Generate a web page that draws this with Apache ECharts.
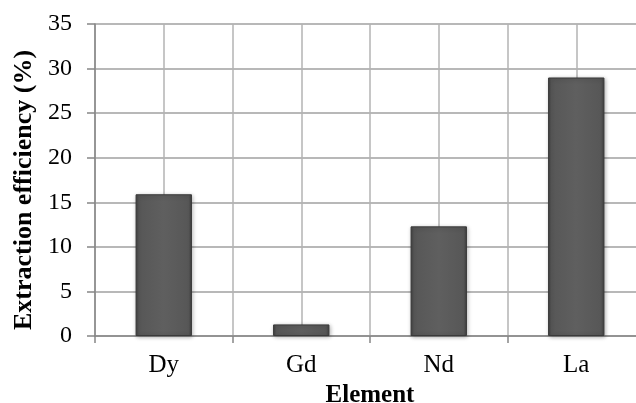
<!DOCTYPE html>
<html><head><meta charset="utf-8">
<script src="https://cdn.jsdelivr.net/npm/echarts@6/dist/echarts.min.js"></script>
<style>html,body{margin:0;padding:0;background:#fff}#c{width:636px;height:403px}</style>
</head><body><div id="c"></div>
<script>
const categories = ['Dy', 'Gd', 'Nd', 'La'];
const efficiency = [15.9, 1.3, 12.3, 29.0];
const yTicks = { min: 0, max: 35, interval: 5 };
const xTitle = 'Element';
const yTitle = 'Extraction efficiency (%)';

const halfSlots = categories.flatMap(c => [c + '_a', c + '_b']);
const font = '"Liberation Serif", "Times New Roman", serif';
const chart = echarts.init(document.getElementById('c'));
chart.setOption({
  animation: false,
  grid: { left: 95, top: 24, width: 550, height: 312, containLabel: false, outerBoundsMode: 'none' },
  xAxis: [{
    type: 'category', data: categories, position: 'bottom',
    axisLine: { lineStyle: { color: '#868686', width: 1.5 } },
    axisTick: { show: true, length: 7, lineStyle: { color: '#868686', width: 1.5 } },
    axisLabel: { color: '#000', fontFamily: font, fontSize: 25, margin: 17 },
    splitLine: { show: false },
    name: xTitle, nameLocation: 'middle', nameGap: 45,
    nameTextStyle: { color: '#000', fontFamily: font, fontSize: 25, fontWeight: 'bold' }
  }, {
    type: 'category', data: halfSlots, position: 'bottom',
    axisLine: { show: false }, axisTick: { show: false }, axisLabel: { show: false },
    splitLine: { show: true, lineStyle: { color: '#b3b3b3', width: 1.5 } }
  }],
  yAxis: {
    type: 'value', min: yTicks.min, max: yTicks.max, interval: yTicks.interval,
    axisLine: { show: true, lineStyle: { color: '#868686', width: 1.5 } },
    axisTick: { show: true, length: 8, lineStyle: { color: '#868686', width: 1.5 } },
    axisLabel: { color: '#000', fontFamily: font, fontSize: 24, margin: 23 },
    splitLine: { show: true, lineStyle: { color: '#a0a0a0', width: 1.5 } },
    name: yTitle, nameLocation: 'middle', nameGap: 58,
    nameTextStyle: { color: '#000', fontFamily: font, fontSize: 26, fontWeight: 'bold', padding: [0, 0, 0, -20] }
  },
  series: [{
    type: 'bar', xAxisIndex: 0, data: efficiency, barWidth: '41%',
    itemStyle: {
      color: new echarts.graphic.LinearGradient(0, 0, 1, 0, [
        { offset: 0, color: '#404040' }, { offset: 0.06, color: '#575757' },
        { offset: 0.5, color: '#5f5f5f' }, { offset: 0.94, color: '#575757' },
        { offset: 1, color: '#404040' }
      ]),
      borderColor: '#3a3a3a', borderWidth: 1,
      shadowBlur: 4, shadowColor: 'rgba(0,0,0,0.3)', shadowOffsetX: 1, shadowOffsetY: 1
    }
  }]
});
</script></body></html>
